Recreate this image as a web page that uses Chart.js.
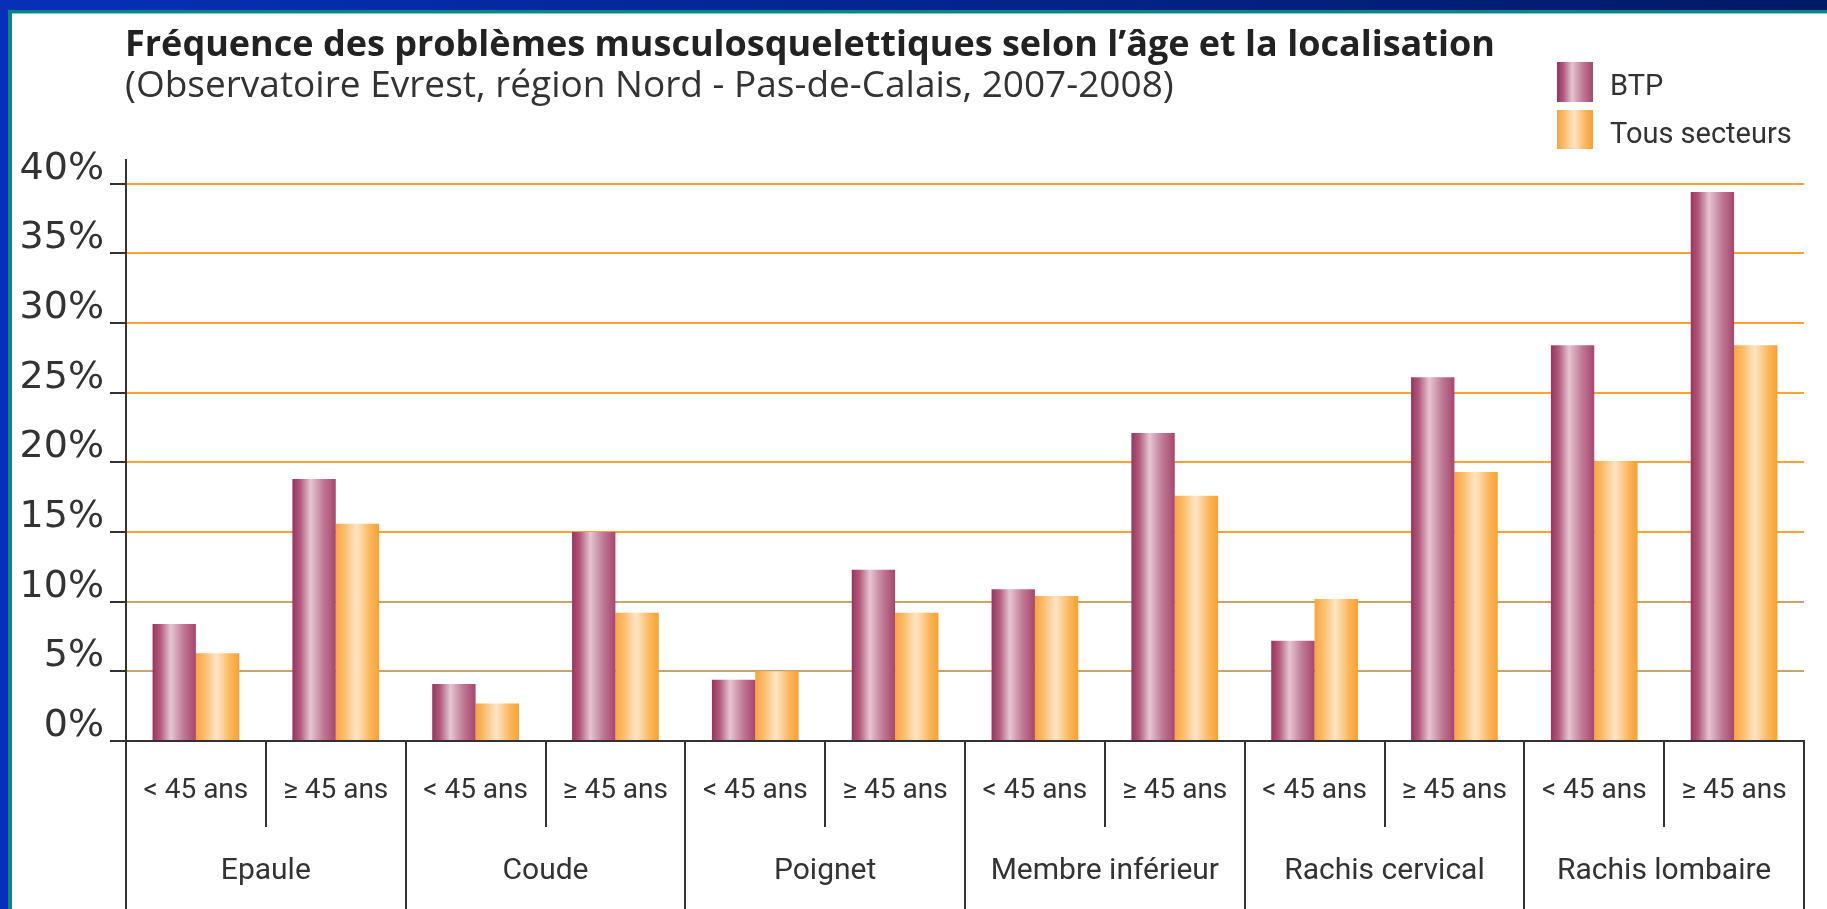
<!DOCTYPE html>
<html lang="fr">
<head>
<meta charset="utf-8">
<title>Fréquence des problèmes musculosquelettiques</title>
<script src="https://cdn.jsdelivr.net/npm/chart.js@4.4.1/dist/chart.umd.min.js"></script>
<style>
  html, body { margin: 0; padding: 0; background: #fff; }
  #wrap { width: 1827px; height: 909px; position: relative; }
</style>
</head>
<body>
<div id="wrap"><canvas id="chart"></canvas></div>
<script>
const titleText = "Fréquence des problèmes musculosquelettiques selon l’âge et la localisation";
const subtitleText = "(Observatoire Evrest, région Nord - Pas-de-Calais, 2007-2008)";

const ageLabels = ["< 45 ans", "≥ 45 ans", "< 45 ans", "≥ 45 ans", "< 45 ans", "≥ 45 ans",
                   "< 45 ans", "≥ 45 ans", "< 45 ans", "≥ 45 ans", "< 45 ans", "≥ 45 ans"];
const groupLabels = ["Epaule", "Coude", "Poignet", "Membre inférieur", "Rachis cervical", "Rachis lombaire"];
const seriesNames = ["BTP", "Tous secteurs"];
const btpValues = [8.4, 18.8, 4.1, 15.0, 4.4, 12.3, 10.9, 22.1, 7.2, 26.1, 28.4, 39.4];
const tousValues = [6.3, 15.6, 2.7, 9.2, 5.0, 9.2, 10.4, 17.6, 10.2, 19.3, 20.1, 28.4];
const yTickValues = [0, 5, 10, 15, 20, 25, 30, 35, 40];

const CAT_PCT = 0.62;
const FONT = "Roboto, 'DejaVu Sans', sans-serif";
const HEAD_FONT = "'Open Sans', Roboto, sans-serif";

// cylinder-like shading, one set of stops per series
const shades = [
    [[0, "#9a335e"], [0.18, "#b25a7e"], [0.42, "#e5c5d1"], [0.72, "#bf7894"], [1, "#a8466e"]],
    [[0, "#f9a43c"], [0.2, "#fbbd6c"], [0.48, "#fee5c6"], [0.8, "#fbb558"], [1, "#f8a132"]]
];
const flat = ["#b4587c", "#fbb55a"];

function makeGradient(ctx, x0, w, k) {
    const g = ctx.createLinearGradient(x0, 0, x0 + w, 0);
    shades[k].forEach(s => g.addColorStop(s[0], s[1]));
    return g;
}

function barFill(c, k) {
    const chart = c.chart;
    if (!chart.chartArea || c.dataIndex === undefined) return flat[k];
    const xs = chart.scales.x;
    const center = xs.getPixelForValue(c.dataIndex);
    const w = xs.width / ageLabels.length * CAT_PCT / 2;
    const x0 = k === 0 ? center - w : center;
    return makeGradient(chart.ctx, x0, w, k);
}

// frame, title, legend and the separators under the x axis
const decoPlugin = {
    id: "deco",
    beforeDraw(chart) {
        const ctx = chart.ctx;
        const W = chart.width, H = chart.height;
        ctx.save();
        ctx.fillStyle = "#ffffff";
        ctx.fillRect(0, 0, W, H);
        const top = ctx.createLinearGradient(0, 0, W, 0);
        top.addColorStop(0, "#0630b8");
        top.addColorStop(1, "#001a66");
        ctx.fillStyle = top;
        ctx.fillRect(0, 0, W, 10);
        ctx.fillStyle = "#0630b8";
        ctx.fillRect(0, 0, 8, H);
        ctx.fillStyle = "#0d8383";
        ctx.fillRect(8, 10, W - 8, 3);
        ctx.fillRect(8, 10, 4, H - 10);
        ctx.fillStyle = "#8ccaca";
        ctx.fillRect(12, 13, W - 12, 1);
        ctx.restore();
    },
    afterDraw(chart) {
        const ctx = chart.ctx;
        const area = chart.chartArea;
        const xs = chart.scales.x;
        ctx.save();
        // titles
        ctx.fillStyle = "#222";
        ctx.textBaseline = "middle";
        ctx.textAlign = "left";
        ctx.font = "bold 36px " + HEAD_FONT;
        ctx.fillText(titleText, 125, 46, 1372);
        ctx.fillStyle = "#333";
        ctx.font = "37px " + HEAD_FONT;
        ctx.fillText(subtitleText, 125, 86, 1078);

        // legend
        const boxes = [[62, 40], [110, 39]];
        const textY = [88, 136];
        ctx.font = "29px " + FONT;
        seriesNames.forEach((name, k) => {
            ctx.fillStyle = makeGradient(ctx, 1557, 36, k);
            ctx.fillRect(1557, boxes[k][0], 36, boxes[k][1]);
            ctx.fillStyle = "#333";
            ctx.fillText(name, 1610, textY[k]);
        });

        // separators between categories
        ctx.strokeStyle = "#333";
        ctx.lineWidth = 2;
        for (let i = 0; i <= ageLabels.length; i++) {
            const x = Math.round(xs.getPixelForValue(i - 0.5));
            ctx.beginPath();
            ctx.moveTo(x, area.bottom);
            ctx.lineTo(x, i % 2 === 0 ? chart.height : 827);
            ctx.stroke();
        }
        ctx.restore();
    }
};

const ctx = document.getElementById("chart").getContext("2d");
new Chart(ctx, {
    type: "bar",
    data: {
        labels: ageLabels,
        datasets: [
            { label: seriesNames[0], data: btpValues, backgroundColor: c => barFill(c, 0) },
            { label: seriesNames[1], data: tousValues, backgroundColor: c => barFill(c, 1) }
        ]
    },
    options: {
        responsive: true,
        maintainAspectRatio: false,
        animation: false,
        devicePixelRatio: 1,
        layout: { padding: { top: 160, right: 23, left: 0, bottom: 0 } },
        datasets: { bar: { categoryPercentage: CAT_PCT, barPercentage: 1.0, borderWidth: 0 } },
        plugins: {
            legend: { display: false },
            tooltip: { enabled: false }
        },
        scales: {
            x: {
                type: "category",
                position: "bottom",
                offset: true,
                grid: { display: false },
                border: { display: true, color: "#333", width: 2 },
                ticks: { color: "#333", font: { family: FONT, size: 28 }, padding: 25, maxRotation: 0, autoSkip: false },
                afterFit(scale) { scale.height = 86; }
            },
            x2: {
                type: "category",
                axis: "x",
                position: "bottom",
                labels: groupLabels,
                offset: true,
                grid: { display: false },
                border: { display: false },
                ticks: { color: "#333", font: { family: FONT, size: 30 }, padding: 18, maxRotation: 0, autoSkip: false },
                afterFit(scale) { scale.height = 82; }
            },
            y: {
                min: 0,
                max: 41.7,
                afterBuildTicks(scale) { scale.ticks = yTickValues.map(v => ({ value: v })); },
                afterFit(scale) { scale.width = 126; },
                grid: {
                    color: c => c.tick && c.tick.value === 0 ? "rgba(0,0,0,0)"
                        : (c.tick && c.tick.value <= 10 ? "#caa566" : "#f8a334"),
                    lineWidth: 2,
                    drawTicks: true,
                    tickLength: 16,
                    tickColor: "#333"
                },
                border: { display: true, color: "#333", width: 2 },
                ticks: {
                    color: "#333",
                    font: { family: "'DejaVu Sans', sans-serif", size: 38 },
                    padding: 6,
                    labelOffset: -15,
                    callback: v => v + "%"
                }
            }
        }
    },
    plugins: [decoPlugin]
});
</script>
</body>
</html>
